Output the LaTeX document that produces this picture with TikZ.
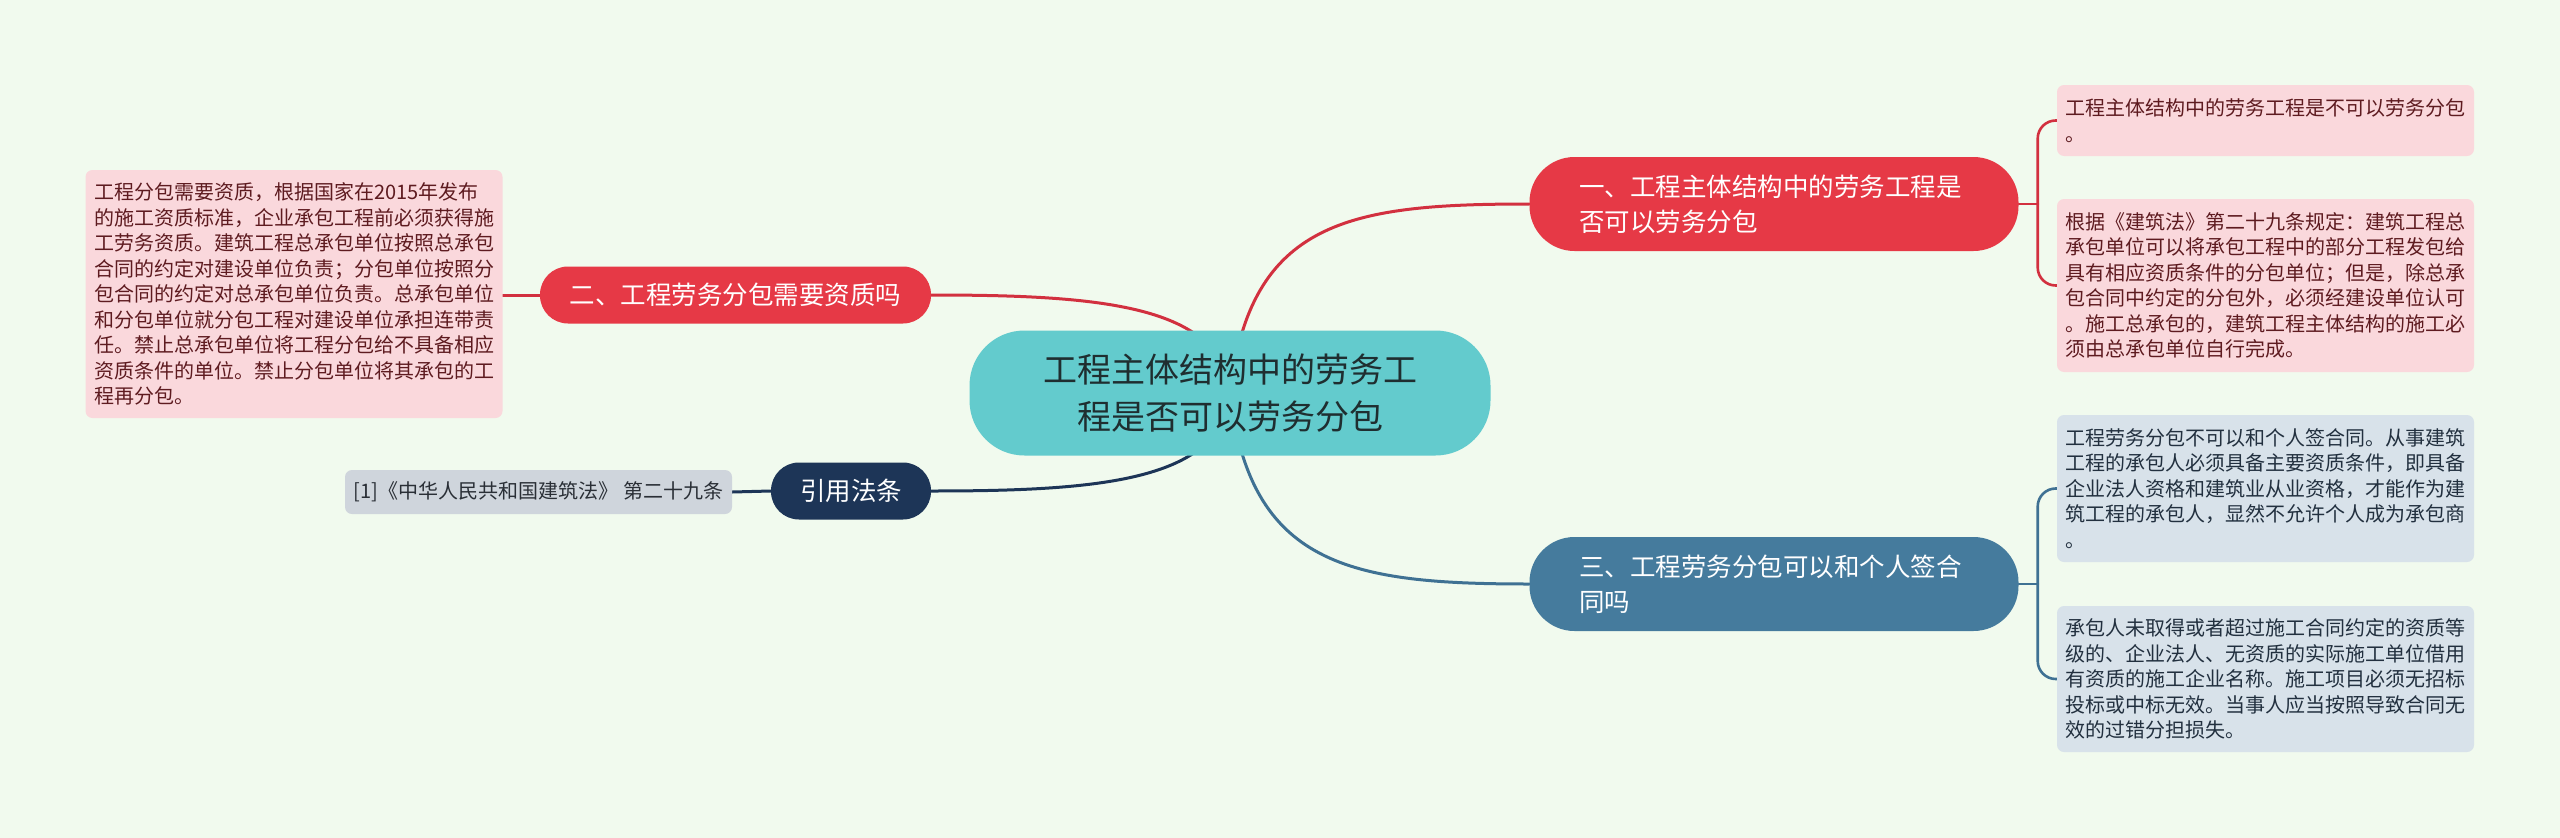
\documentclass[tikz,border=0pt]{standalone}
\usepackage{fontspec}
\setmainfont{Noto Sans CJK SC}
\definecolor{bgc}{HTML}{F1FAEE}
\definecolor{rootc}{HTML}{63CBCD}
\definecolor{roottext}{HTML}{1F2E30}
\definecolor{redc}{HTML}{E63946}
\definecolor{redline}{HTML}{D2303F}
\definecolor{bluec}{HTML}{457B9D}
\definecolor{blueline}{HTML}{3F7193}
\definecolor{navyc}{HTML}{1D3557}
\definecolor{pinkfill}{HTML}{FAD8DC}
\definecolor{pinktext}{HTML}{5E1B20}
\definecolor{greyfill}{HTML}{D8E2EA}
\definecolor{greytext}{HTML}{22303F}
\definecolor{citefill}{HTML}{CFD5DC}
\definecolor{citetext}{HTML}{2A2F36}
\pgfdeclarelayer{bgl}
\pgfdeclarelayer{edgel}
\pgfsetlayers{bgl,edgel,main}
\begin{document}
\begin{tikzpicture}[x=1pt,y=-1pt,
  rootbox/.style={fill=rootc, rounded corners=55pt, inner sep=0pt, minimum width=521pt, minimum height=125pt, align=center, text=roottext, font=\fontsize{34}{47}\selectfont},
  branchbox/.style={rounded corners=45pt, inner sep=0pt, minimum width=489pt, minimum height=94pt, text width=390pt, align=left, text=white, font=\fontsize{25.5}{35}\selectfont},
  pillbox/.style={rounded corners=28pt, inner sep=0pt, minimum height=57pt, align=center, text=white, font=\fontsize{25.5}{30}\selectfont},
  leafbox/.style={rounded corners=7pt, inner sep=0pt, minimum width=417pt, text width=400pt, align=left, font=\fontsize{20}{25.5}\selectfont},
  pinkleaf/.style={leafbox, fill=pinkfill, text=pinktext},
  greyleaf/.style={leafbox, fill=greyfill, text=greytext},
  conn/.style={line width=3pt, line cap=round},
  leafconn/.style={line width=2.6pt, line cap=round, rounded corners=18pt}
]
\begin{pgfonlayer}{bgl}
\fill[bgc] (0,0) rectangle (2560,838);
\end{pgfonlayer}
\useasboundingbox (0,0) rectangle (2560,838);

% root
\node[rootbox] (root) at (1230,393) {工程主体结构中的劳务工\\程是否可以劳务分包};

% branches
\node[branchbox, fill=redc] (b1) at (1774,204) {一、工程主体结构中的劳务工程是\\否可以劳务分包};
\node[branchbox, fill=bluec] (b3) at (1774,584) {三、工程劳务分包可以和个人签合\\同吗};
\node[pillbox, fill=redc, minimum width=391pt] (b2) at (735.5,295) {二、工程劳务分包需要资质吗};
\node[pillbox, fill=navyc, minimum width=160pt] (b4) at (851,491) {引用法条};

% leaves
\node[pinkleaf, minimum height=248pt] (ll) at (294,294) {工程分包需要资质，根据国家在2015年发布\\的施工资质标准，企业承包工程前必须获得施\\工劳务资质。建筑工程总承包单位按照总承包\\合同的约定对建设单位负责；分包单位按照分\\包合同的约定对总承包单位负责。总承包单位\\和分包单位就分包工程对建设单位承担连带责\\任。禁止总承包单位将工程分包给不具备相应\\资质条件的单位。禁止分包单位将其承包的工\\程再分包。};
\node[rounded corners=7pt, inner sep=0pt, fill=citefill, text=citetext, minimum width=387pt, minimum height=44pt, font=\fontsize{20}{24}\selectfont] (cite) at (538.5,492) {[1]《中华人民共和国建筑法》 第二十九条};

\node[pinkleaf, minimum height=71pt] (r1) at (2265.5,120.5) {工程主体结构中的劳务工程是不可以劳务分包\\。};
\node[pinkleaf, minimum height=173pt] (r2) at (2265.5,285.5) {根据《建筑法》第二十九条规定：建筑工程总\\承包单位可以将承包工程中的部分工程发包给\\具有相应资质条件的分包单位；但是，除总承\\包合同中约定的分包外，必须经建设单位认可\\。施工总承包的，建筑工程主体结构的施工必\\须由总承包单位自行完成。};
\node[greyleaf, minimum height=147pt] (r3) at (2265.5,488.5) {工程劳务分包不可以和个人签合同。从事建筑\\工程的承包人必须具备主要资质条件，即具备\\企业法人资格和建筑业从业资格，才能作为建\\筑工程的承包人，显然不允许个人成为承包商\\。};
\node[greyleaf, minimum height=146pt] (r4) at (2265.5,679) {承包人未取得或者超过施工合同约定的资质等\\级的、企业法人、无资质的实际施工单位借用\\有资质的施工企业名称。施工项目必须无招标\\投标或中标无效。当事人应当按照导致合同无\\效的过错分担损失。};

\coordinate (j1) at ([xshift=19pt]b1.east);
\coordinate (j3) at ([xshift=19pt]b3.east);

\begin{pgfonlayer}{edgel}
\draw[conn, redline] (root.center) .. controls (1250,220) and (1350,204) .. (b1.west);
\draw[conn, blueline] (root.center) .. controls (1250,566) and (1350,584) .. (b3.west);
\draw[conn, redline] (root.center) .. controls (1222,305) and (1100,295) .. (b2.east);
\draw[conn, navyc] (root.center) .. controls (1222,481) and (1100,491) .. (b4.east);
\draw[conn, redline] (b2.west) -- (ll.east |- b2.west);
\draw[conn, navyc] (b4.west) -- (cite.east);
\draw[leafconn, redline] (b1.east) -- (j1);
\draw[leafconn, redline] (j1) |- (r1.west);
\draw[leafconn, redline] (j1) |- (r2.west);
\draw[leafconn, blueline] (b3.east) -- (j3);
\draw[leafconn, blueline] (j3) |- (r3.west);
\draw[leafconn, blueline] (j3) |- (r4.west);
\end{pgfonlayer}
\end{tikzpicture}
\end{document}
